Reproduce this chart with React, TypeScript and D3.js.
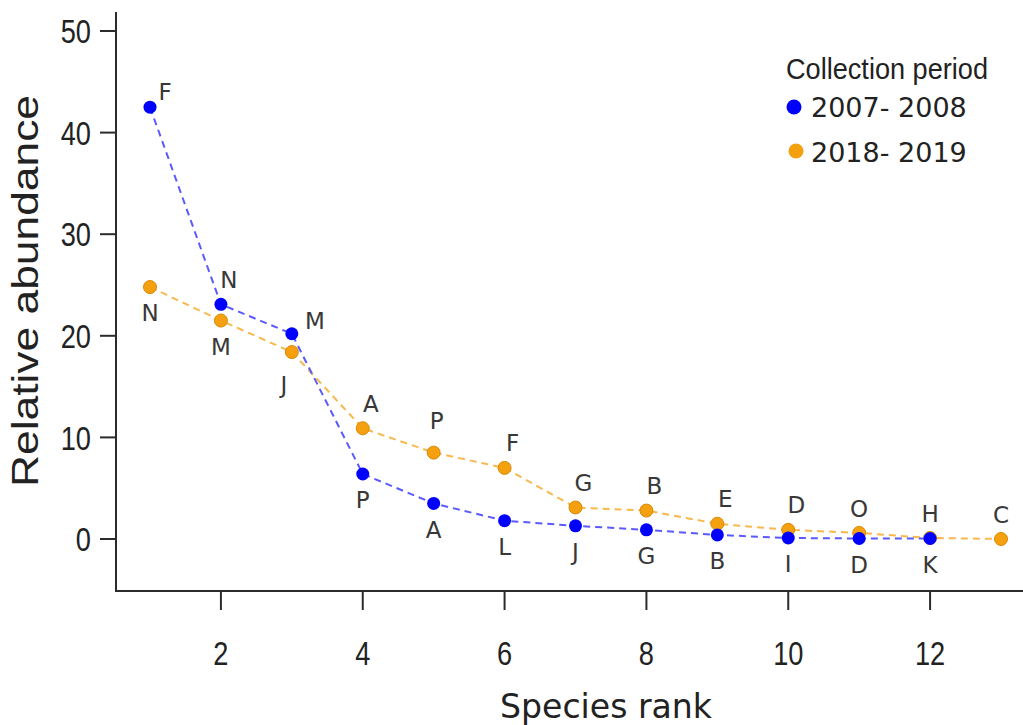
import * as d3 from 'd3';

// species rank on the x axis
const ranks2007 = [1, 2, 3, 4, 5, 6, 7, 8, 9, 10, 11, 12];
const ranks2018 = [1, 2, 3, 4, 5, 6, 7, 8, 9, 10, 11, 12, 13];

// relative abundance (%)
const abundance2007 = [42.5, 23.1, 20.2, 6.4, 3.5, 1.8, 1.3, 0.9, 0.4, 0.1, 0.05, 0.05];
const abundance2018 = [24.8, 21.5, 18.4, 10.9, 8.5, 7.0, 3.1, 2.8, 1.5, 0.9, 0.6, 0.1, 0.0];

// species letters at each point
const species2007 = ['F', 'N', 'M', 'P', 'A', 'L', 'J', 'G', 'B', 'I', 'D', 'K'];
const species2018 = ['N', 'M', 'J', 'A', 'P', 'F', 'G', 'B', 'E', 'D', 'O', 'H', 'C'];

// which side of the point each letter sits on
const side2007 = ['nee', 'ne', 'e', 's', 's', 's', 's', 's', 's', 's', 's', 's'];
const side2018 = ['s', 's', 'sw', 'ne', 'nn', 'ne', 'ne', 'ne', 'ne', 'ne', 'n', 'n', 'n'];

const seriesNames = ['2007- 2008', '2018- 2019'];
const xTicks = [2, 4, 6, 8, 10, 12];
const yTicks = [0, 10, 20, 30, 40, 50];

const W = 1023;
const H = 725;

const sideOffset: Record<string, [number, number]> = {
  n: [0, -24],
  nn: [3, -32],
  s: [0, 26],
  ne: [8, -25],
  nee: [15, -15],
  e: [23, -13],
  sw: [-8, 33],
};

const BLUE = '#0000ff';
const ORANGE = '#f5a00f';

export default function App() {
  const x = d3.scaleLinear().domain([1, 13]).range([150, 1001]);
  const y = d3.scaleLinear().domain([0, 50]).range([539, 31]);

  const line = d3
    .line<[number, number]>()
    .x((d) => x(d[0]))
    .y((d) => y(d[1]));

  const pts2007 = ranks2007.map((r, i) => [r, abundance2007[i]] as [number, number]);
  const pts2018 = ranks2018.map((r, i) => [r, abundance2018[i]] as [number, number]);

  const axisColor = '#2b2b2b';
  const labelFont = '"DejaVu Sans", Verdana, sans-serif';
  const sansFont = '"Liberation Sans", Arial, sans-serif';

  const letters = (pts: [number, number][], names: string[], sides: string[], key: string) =>
    pts.map((p, i) => {
      const [dx, dy] = sideOffset[sides[i]];
      return (
        <text
          key={key + i}
          x={x(p[0]) + dx}
          y={y(p[1]) + dy}
          dy="0.36em"
          textAnchor="middle"
          fontFamily={labelFont}
          fontSize={23}
          fill="#383838"
        >
          {names[i]}
        </text>
      );
    });

  return (
    <svg
      width={W}
      height={H}
      viewBox={`0 0 ${W} ${H}`}
      style={{ position: 'fixed', left: 0, top: 0, background: '#fff' }}
    >
      {/* axes */}
      <line x1={116} x2={116} y1={12} y2={592} stroke={axisColor} strokeWidth={2} />
      <line x1={115} x2={W} y1={591} y2={591} stroke={axisColor} strokeWidth={2} />

      {yTicks.map((t) => (
        <g key={'y' + t}>
          <line x1={100} x2={116} y1={y(t)} y2={y(t)} stroke={axisColor} strokeWidth={2} />
          <text
            transform={`translate(91,${y(t)}) scale(0.8,1)`}
            dy="0.36em"
            textAnchor="end"
            fontFamily={sansFont}
            fontSize={34}
            fill="#222"
          >
            {t}
          </text>
        </g>
      ))}

      {xTicks.map((t) => (
        <g key={'x' + t}>
          <line x1={x(t)} x2={x(t)} y1={591} y2={610} stroke={axisColor} strokeWidth={2} />
          <text
            transform={`translate(${x(t)},665) scale(0.8,1)`}
            textAnchor="middle"
            fontFamily={sansFont}
            fontSize={34}
            fill="#222"
          >
            {t}
          </text>
        </g>
      ))}

      <text
        transform="translate(38,291) rotate(-90)"
        textAnchor="middle"
        fontFamily={sansFont}
        fontSize={36}
        textLength={392}
        lengthAdjust="spacingAndGlyphs"
        fill="#222"
      >
        Relative abundance
      </text>
      <text
        x={606}
        y={718}
        textAnchor="middle"
        fontFamily={labelFont}
        fontSize={34}
        textLength={212}
        lengthAdjust="spacingAndGlyphs"
        fill="#222"
      >
        Species rank
      </text>

      {/* 2018-2019 series */}
      <path d={line(pts2018) || ''} fill="none" stroke="#f8b84e" strokeWidth={2} strokeDasharray="7,5" />
      {pts2018.map((p, i) => (
        <circle key={'o' + i} cx={x(p[0])} cy={y(p[1])} r={6.5} fill={ORANGE} stroke="#d98a05" strokeWidth={1} />
      ))}

      {/* 2007-2008 series */}
      <path d={line(pts2007) || ''} fill="none" stroke="#5a5aff" strokeWidth={2} strokeDasharray="7,5" />
      {pts2007.map((p, i) => (
        <circle key={'b' + i} cx={x(p[0])} cy={y(p[1])} r={6.5} fill={BLUE} />
      ))}

      {letters(pts2018, species2018, side2018, 'lo')}
      {letters(pts2007, species2007, side2007, 'lb')}

      {/* legend */}
      <text
        x={786}
        y={79}
        fontFamily={sansFont}
        fontSize={30}
        textLength={202}
        lengthAdjust="spacingAndGlyphs"
        fill="#222"
      >
        Collection period
      </text>
      {seriesNames.map((name, i) => (
        <g key={name}>
          <circle cx={794 + i * 2} cy={107 + i * 44} r={7.5} fill={i === 0 ? BLUE : ORANGE} />
          <text x={811} y={117 + i * 45} fontFamily={labelFont} fontSize={27} fill="#222">
            {name}
          </text>
        </g>
      ))}
    </svg>
  );
}
